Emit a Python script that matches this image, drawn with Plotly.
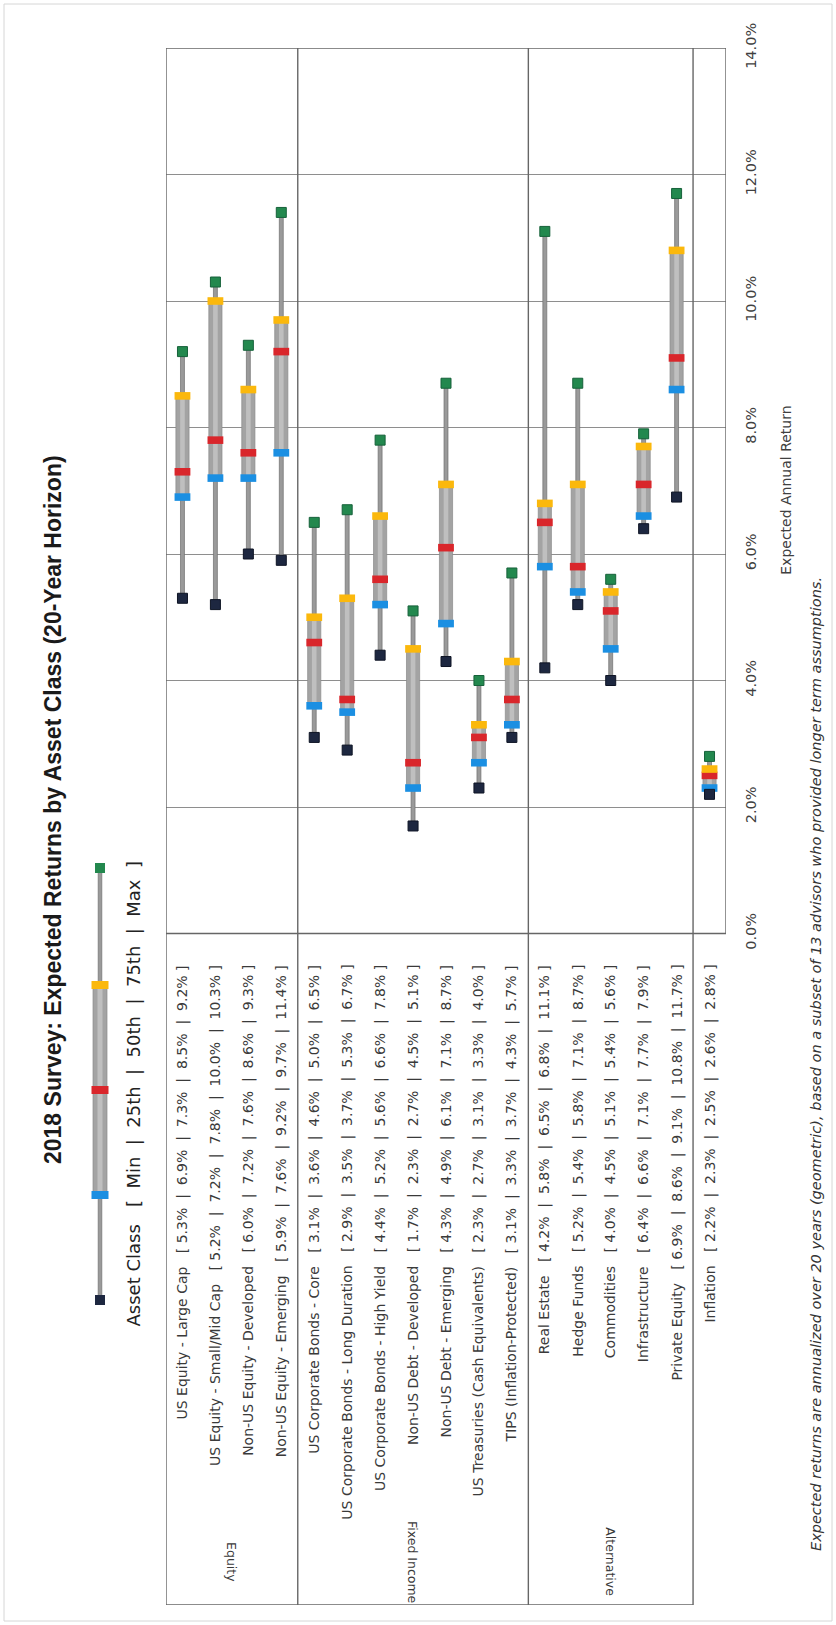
import plotly.graph_objects as go

# ---------------- data ----------------
categories = ["US Equity - Large Cap", "US Equity - Small/Mid Cap", "Non-US Equity - Developed",
              "Non-US Equity - Emerging", "US Corporate Bonds - Core", "US Corporate Bonds - Long Duration",
              "US Corporate Bonds - High Yield", "Non-US Debt - Developed", "Non-US Debt - Emerging",
              "US Treasuries (Cash Equivalents)", "TIPS (Inflation-Protected)", "Real Estate",
              "Hedge Funds", "Commodities", "Infrastructure", "Private Equity", "Inflation"]
group_names = ["Equity", "Fixed Income", "Alternative"]
group_sizes = [4, 7, 5]
min_v = [5.3, 5.2, 6.0, 5.9, 3.1, 2.9, 4.4, 1.7, 4.3, 2.3, 3.1, 4.2, 5.2, 4.0, 6.4, 6.9, 2.2]
p25_v = [6.9, 7.2, 7.2, 7.6, 3.6, 3.5, 5.2, 2.3, 4.9, 2.7, 3.3, 5.8, 5.4, 4.5, 6.6, 8.6, 2.3]
p50_v = [7.3, 7.8, 7.6, 9.2, 4.6, 3.7, 5.6, 2.7, 6.1, 3.1, 3.7, 6.5, 5.8, 5.1, 7.1, 9.1, 2.5]
p75_v = [8.5, 10.0, 8.6, 9.7, 5.0, 5.3, 6.6, 4.5, 7.1, 3.3, 4.3, 6.8, 7.1, 5.4, 7.7, 10.8, 2.6]
max_v = [9.2, 10.3, 9.3, 11.4, 6.5, 6.7, 7.8, 5.1, 8.7, 4.0, 5.7, 11.1, 8.7, 5.6, 7.9, 11.7, 2.8]
tick_vals = [0, 2, 4, 6, 8, 10, 12, 14]
tick_text = ["0.0%", "2.0%", "4.0%", "6.0%", "8.0%", "10.0%", "12.0%", "14.0%"]
legend_parts = ["Min", "25th", "50th", "75th", "Max"]

# ---------------- geometry ----------------
W, H = 836, 1625
ML, MR, MT, MB = 166, 110, 48, 20
PW, PH = W - ML - MR, H - MT - MB
PX_PER_PCT = 63.25
Y_TOP = 14.0
Y_BOT = Y_TOP - PH / PX_PER_PCT
n = len(categories)
xs = list(range(n))


def px_x(px):
    return (px - ML) / PW


def px_y(py):
    return (H - MB - py) / PH


def val_y(py):
    return Y_TOP - (py - MT) / PX_PER_PCT


C_NAVY, C_BLUE, C_RED, C_GOLD, C_GREEN = "#1d2740", "#1b8fe2", "#d9262b", "#fbb80c", "#23884e"
C_BODY, C_BODY_HI, C_STEM = "#a3a3a3", "#bfbfbf", "#9a9a9a"
FONT = "DejaVu Sans"
SP = "\u00a0"

fig = go.Figure()
fig.add_trace(go.Bar(x=xs, base=min_v, y=[b - a for a, b in zip(min_v, max_v)], width=0.12,
                     marker=dict(color=C_STEM, line=dict(color="#6f6f6f", width=0.7)), hoverinfo="skip"))
fig.add_trace(go.Bar(x=xs, base=p25_v, y=[b - a for a, b in zip(p25_v, p75_v)], width=0.40,
                     marker=dict(color=C_BODY, line=dict(color="#8a8a8a", width=0.7)), hoverinfo="skip"))
fig.add_trace(go.Bar(x=xs, base=p25_v, y=[b - a for a, b in zip(p25_v, p75_v)], width=0.14,
                     marker=dict(color=C_BODY_HI, line=dict(width=0)), hoverinfo="skip"))
band_h = 0.12
for vals, col in [(p25_v, C_BLUE), (p50_v, C_RED), (p75_v, C_GOLD)]:
    fig.add_trace(go.Bar(x=xs, base=[v - band_h / 2 for v in vals], y=[band_h] * n, width=0.48,
                         marker=dict(color=col, line=dict(width=0)), hoverinfo="skip"))
fig.add_trace(go.Scatter(x=xs, y=min_v, mode="markers",
                         marker=dict(symbol="square", size=10, color=C_NAVY, line=dict(color="#0e1424", width=1))))
fig.add_trace(go.Scatter(x=xs, y=max_v, mode="markers",
                         marker=dict(symbol="square", size=10, color=C_GREEN, line=dict(color="#16613a", width=1))))

shapes = []
LINE = dict(color="#666666", width=1.4)
shapes.append(dict(type="rect", xref="x", yref="y", x0=-0.5, x1=n - 0.5, y0=0, y1=Y_TOP, line=LINE))
cum = 0
for s in group_sizes:
    cum += s
    shapes.append(dict(type="line", xref="x", yref="y", x0=cum - 0.5, x1=cum - 0.5, y0=Y_TOP, y1=Y_BOT, line=LINE))
shapes.append(dict(type="line", xref="x", yref="y", x0=-0.5, x1=-0.5, y0=0, y1=Y_BOT, line=LINE))
shapes.append(dict(type="line", xref="x", yref="y", x0=-0.5, x1=cum - 0.5, y0=Y_BOT, y1=Y_BOT, line=LINE))
shapes.append(dict(type="rect", xref="paper", yref="paper", x0=px_x(4), x1=px_x(832), y0=px_y(1621), y1=px_y(4),
                   line=dict(color="#d6d6d6", width=1)))

# legend glyph (illustration)
LX = 100
L_MAX, L_Q3, L_MED, L_Q1, L_MIN = 868, 985, 1090, 1195, 1300
shapes.append(dict(type="rect", xref="paper", yref="paper", x0=px_x(LX - 1.8), x1=px_x(LX + 1.8),
                   y0=px_y(L_MIN), y1=px_y(L_MAX), fillcolor=C_STEM, line=dict(color="#6f6f6f", width=0.7)))
shapes.append(dict(type="rect", xref="paper", yref="paper", x0=px_x(LX - 7), x1=px_x(LX + 7),
                   y0=px_y(L_Q1), y1=px_y(L_Q3), fillcolor=C_BODY, line=dict(color="#8a8a8a", width=0.7)))
shapes.append(dict(type="rect", xref="paper", yref="paper", x0=px_x(LX - 2.5), x1=px_x(LX + 2.5),
                   y0=px_y(L_Q1), y1=px_y(L_Q3), fillcolor=C_BODY_HI, line=dict(width=0)))
for py, col in [(L_Q1, C_BLUE), (L_MED, C_RED), (L_Q3, C_GOLD)]:
    shapes.append(dict(type="rect", xref="paper", yref="paper", x0=px_x(LX - 8.5), x1=px_x(LX + 8.5),
                       y0=px_y(py + 4), y1=px_y(py - 4), fillcolor=col, line=dict(width=0)))
for py, col in [(L_MIN, C_NAVY), (L_MAX, C_GREEN)]:
    shapes.append(dict(type="rect", xref="paper", yref="paper", x0=px_x(LX - 5), x1=px_x(LX + 5),
                       y0=px_y(py + 5), y1=px_y(py - 5), fillcolor=col, line=dict(width=0)))

annotations = []
for i, name in enumerate(categories):
    vals = [min_v[i], p25_v[i], p50_v[i], p75_v[i], max_v[i]]
    txt = name + SP * 3 + "[" + SP + (SP * 2 + "|" + SP * 2).join(f"{v:.1f}%" for v in vals) + SP + "]"
    annotations.append(dict(x=i, y=val_y(963), xref="x", yref="y", text=txt, textangle=-90, showarrow=False,
                            xanchor="center", yanchor="top", font=dict(family=FONT, size=14, color="#3a3a3a")))
start = 0
for g, s in zip(group_names, group_sizes):
    annotations.append(dict(x=start + (s - 1) / 2, y=val_y(1562), xref="x", yref="y", text=g, textangle=90,
                            showarrow=False, xanchor="center", yanchor="middle",
                            font=dict(family=FONT, size=12.5, color="#3a3a3a")))
    start += s
annotations.append(dict(x=px_x(53), y=px_y(810), xref="paper", yref="paper",
                        text="<b>2018 Survey: Expected Returns by Asset Class (20-Year Horizon)</b>",
                        textangle=-90, showarrow=False, xanchor="center", yanchor="middle",
                        font=dict(family="Liberation Sans", size=23, color="#1a1a1a")))
leg_txt = "Asset Class" + SP * 3 + "[" + SP * 2 + (SP * 2 + "|" + SP * 2).join(legend_parts) + SP * 2 + "]"
annotations.append(dict(x=px_x(133), y=px_y(860), xref="paper", yref="paper",
                        text=leg_txt, textangle=-90, showarrow=False,
                        xanchor="center", yanchor="top", font=dict(family=FONT, size=18, color="#222222")))
annotations.append(dict(x=px_x(786), y=7, xref="paper", yref="y", text="Expected Annual Return", textangle=-90,
                        showarrow=False, xanchor="center", yanchor="middle",
                        font=dict(family=FONT, size=14, color="#404040")))
annotations.append(dict(x=px_x(816), y=px_y(1553), xref="paper", yref="paper",
                        text="<i>Expected returns are annualized over 20 years (geometric), based on a subset of 13 "
                             "advisors who provided longer term assumptions.</i>",
                        textangle=-90, showarrow=False, xanchor="center", yanchor="bottom",
                        font=dict(family=FONT, size=14.5, color="#333333")))

fig.update_layout(
    width=W, height=H, margin=dict(l=ML, r=MR, t=MT, b=MB),
    paper_bgcolor="white", plot_bgcolor="white", barmode="overlay", showlegend=False,
    xaxis=dict(range=[-0.5, n - 0.5], showgrid=False, zeroline=False, showticklabels=False, ticks="",
               fixedrange=True),
    yaxis=dict(range=[Y_BOT, Y_TOP], side="right", tickvals=tick_vals, ticktext=tick_text, tickangle=-90,
               showgrid=True, gridcolor="#8e8e8e", gridwidth=1.2, zeroline=False, ticks="",
               ticklabelstandoff=14, tickfont=dict(family=FONT, size=14.5, color="#404040"), fixedrange=True),
    shapes=shapes, annotations=annotations,
)
fig.write_html("out.html", config={"displayModeBar": False},
               post_script="document.body.style.margin='0';document.body.style.overflow='hidden';")
